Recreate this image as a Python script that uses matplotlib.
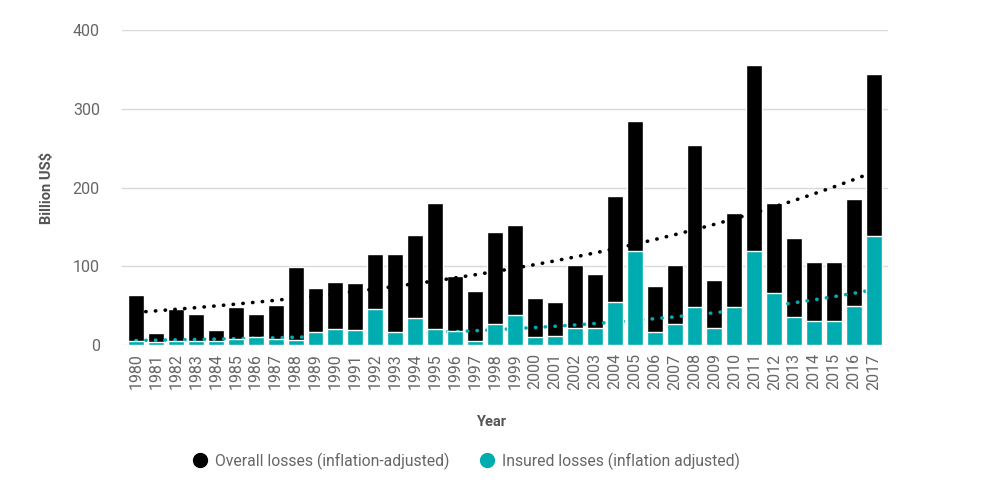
import numpy as np
import matplotlib.pyplot as plt

years = list(range(1980, 2018))
# billion US$
overall = [63, 15, 46, 40, 19, 48, 40, 51, 99, 73,
           80, 79, 115, 115, 140, 180, 87, 69, 144, 152,
           60, 54, 102, 90, 189, 284, 75, 101, 254, 83,
           168, 355, 180, 136, 105, 105, 185, 344]
insured = [5, 4, 5, 5, 5, 7, 10, 8, 6, 16,
           20, 19, 46, 16, 34, 20, 18, 5, 27, 38,
           10, 12, 21, 21, 55, 120, 17, 27, 48, 22,
           48, 119, 66, 35, 30, 30, 49, 139]

BLACK = '#000000'
TEAL = '#00acaf'
GREY = '#666666'

plt.rcParams['font.family'] = ['Roboto', 'DejaVu Sans']

fig = plt.figure(figsize=(9.85, 4.86), dpi=100)
ax = fig.add_axes([122 / 985, 1 - 345 / 486, 766 / 985, 315 / 486])

x = np.arange(len(years))
ax.bar(x, overall, width=0.8, color=BLACK, edgecolor='white', linewidth=1, zorder=2,
       label='Overall losses (inflation-adjusted)')
ax.bar(x, insured, width=0.8, color=TEAL, edgecolor='white', linewidth=1, zorder=4,
       label='Insured losses (inflation adjusted)')

# exponential trend lines fitted to each series
for vals, col in [(overall, BLACK), (insured, TEAL)]:
    b, a = np.polyfit(x, np.log(vals), 1)
    ax.plot(x, np.exp(a + b * x), color=col, linestyle=(0, (0.1, 2.6)), linewidth=2.6,
            dash_capstyle='round', zorder=3)

ax.set_xlim(-0.7, len(years) - 0.3)
ax.set_ylim(0, 400)
ax.set_yticks([0, 100, 200, 300, 400])
ax.set_xticks(x)
ax.set_xticklabels(years, rotation=90)
ax.tick_params(axis='both', length=0, colors=GREY, labelsize=11.5)
ax.tick_params(axis='y', pad=16)
ax.tick_params(axis='x', pad=6)
ax.grid(axis='y', color='#d9d9d9', linewidth=1, zorder=0)
ax.set_axisbelow(True)
for s in ax.spines.values():
    s.set_visible(False)

ax.set_ylabel('Billion US$', fontweight='bold', color='#555555', fontsize=10.5)
ax.yaxis.set_label_coords(-(122 - 54) / 766, 0.5)
ax.set_xlabel('Year', fontweight='bold', color='#555555', fontsize=10.5)
ax.xaxis.set_label_coords((491 - 122) / 766, -(415 - 345) / 315)

handles = [plt.Line2D([], [], marker='o', linestyle='none', markersize=10, color=c)
           for c in (BLACK, TEAL)]
fig.legend(handles, ['Overall losses (inflation-adjusted)', 'Insured losses (inflation adjusted)'],
           loc='center', bbox_to_anchor=(466 / 985, 1 - 461 / 486), ncol=2, frameon=False,
           fontsize=11.3, labelcolor=GREY, handletextpad=0.45, columnspacing=1.9,
           handlelength=1.0)

fig.savefig('out.png', dpi=100)
